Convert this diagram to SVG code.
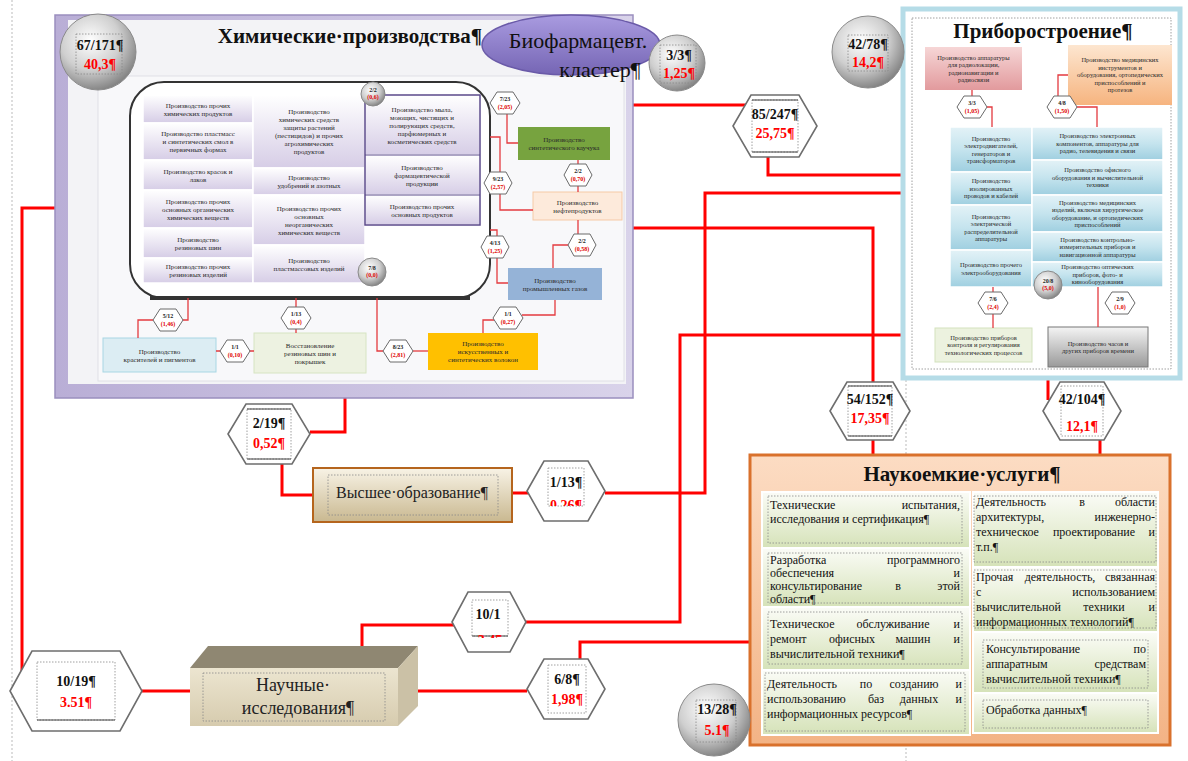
<svg xmlns="http://www.w3.org/2000/svg" width="1188" height="761" viewBox="0 0 1188 761">
<defs>
<radialGradient id="ball" cx="40%" cy="35%" r="70%"><stop offset="0" stop-color="#ffffff"/><stop offset="0.55" stop-color="#cfcfcf"/><stop offset="1" stop-color="#7a7a7a"/></radialGradient>
<linearGradient id="lav" x1="0" y1="0" x2="0" y2="1"><stop offset="0" stop-color="#ffffff"/><stop offset="1" stop-color="#d6cde6"/></linearGradient>
<linearGradient id="frame" x1="0" y1="0" x2="1" y2="0"><stop offset="0" stop-color="#b9aed6"/><stop offset="1" stop-color="#d9d3ea"/></linearGradient>
<linearGradient id="ell" x1="0" y1="0" x2="0" y2="1"><stop offset="0" stop-color="#a99be0"/><stop offset="1" stop-color="#7565b4"/></linearGradient>
<linearGradient id="bl" x1="0" y1="0" x2="0" y2="1"><stop offset="0" stop-color="#e3f2f7"/><stop offset="0.5" stop-color="#c5e4ee"/><stop offset="1" stop-color="#9fcfe0"/></linearGradient>
<linearGradient id="pink" x1="0" y1="0" x2="0" y2="1"><stop offset="0" stop-color="#f6d6d6"/><stop offset="1" stop-color="#e29a9d"/></linearGradient>
<linearGradient id="orng" x1="0" y1="0" x2="0" y2="1"><stop offset="0" stop-color="#fde6d0"/><stop offset="1" stop-color="#f6b47f"/></linearGradient>
<linearGradient id="gray" x1="0" y1="0" x2="0" y2="1"><stop offset="0" stop-color="#f4f4f4"/><stop offset="1" stop-color="#9a9a9a"/></linearGradient>
<linearGradient id="svc" x1="0" y1="0" x2="0" y2="1"><stop offset="0" stop-color="#fcdcc3"/><stop offset="1" stop-color="#f3b385"/></linearGradient>
<linearGradient id="pnl" x1="0" y1="0" x2="0" y2="1"><stop offset="0" stop-color="#fbfcf7"/><stop offset="1" stop-color="#d5e2b8"/></linearGradient>
<linearGradient id="edu" x1="0" y1="0" x2="0" y2="1"><stop offset="0" stop-color="#f8f3e6"/><stop offset="1" stop-color="#c9b890"/></linearGradient>
<linearGradient id="front" x1="0" y1="0" x2="0" y2="1"><stop offset="0" stop-color="#ece5d0"/><stop offset="1" stop-color="#d6cbae"/></linearGradient>
<clipPath id="c113"><rect x="530" y="461" width="80" height="45"/></clipPath>
<clipPath id="c101"><rect x="450" y="592" width="80" height="46"/></clipPath>
<style>
.sm{font-family:"Liberation Serif",serif;font-size:7px;fill:#2a2a2a;text-anchor:middle}
.xs{font-family:"Liberation Serif",serif;font-size:6.5px;fill:#2a2a2a;text-anchor:middle}
.tn{font-family:"Liberation Serif",serif;font-size:6px;font-weight:bold;fill:#222;text-anchor:middle}
.tr{font-family:"Liberation Serif",serif;font-size:6px;font-weight:bold;fill:#e00000;text-anchor:middle}
.cell{fill:url(#lav);stroke:#ffffff;stroke-width:1.5}
.bcell{fill:url(#bl);stroke:#ffffff;stroke-width:1.5}
.hx{fill:#ffffff;stroke:#6e6e6e;stroke-width:1.6}
.sh{fill:#ffffff;stroke:#6a6a6a;stroke-width:1}
.big{stroke:#ff0000;stroke-width:3;fill:none}
.thin{stroke:#e33a3f;stroke-width:1.3;fill:none}
.num{font-family:"Liberation Serif",serif;font-size:14px;font-weight:bold;fill:#111;text-anchor:middle}
.red{fill:#ff0000}
.ttl{font-family:"Liberation Serif",serif;font-size:21px;font-weight:bold;fill:#111;text-anchor:middle}
.st{font-family:"Liberation Serif",serif;font-size:12px;fill:#111}
.dot{fill:none;stroke:#888;stroke-width:0.8;stroke-dasharray:1.5 1.5}
.ball{fill:url(#ball);stroke:#8a8a8a;stroke-width:1}
.pnl{fill:url(#pnl);stroke:#ffffff;stroke-width:2}
.e{text-anchor:end}
.m{text-anchor:middle}
</style>
</defs>
<rect width="1188" height="761" fill="#ffffff"/>
<line x1="12" y1="0" x2="12" y2="761" stroke="#bbb" stroke-width="1" stroke-dasharray="2 2"/>
<line x1="906" y1="380" x2="906" y2="761" stroke="#bbb" stroke-width="1" stroke-dasharray="2 2"/>

<!-- connectors -->
<g id="connectors">
<path class="big" d="M632,105 H746"/>
<path class="big" d="M768,157 V175 H905"/>
<path class="big" d="M632,228 H873 V382"/>
<path class="big" d="M873,440 V456"/>
<path class="big" d="M1048,378 V400"/>
<path class="big" d="M1100,440 V456"/>
<path class="big" d="M345,398 V432 H310"/>
<path class="big" d="M282,464 V495 H313"/>
<path class="big" d="M512,493 H528"/>
<path class="big" d="M605,493 H705 V193 H905"/>
<path class="big" d="M55,208 H22 V674"/>
<path class="big" d="M142,691 H190"/>
<path class="big" d="M418,691 H527"/>
<path class="big" d="M362,647 V625 H454"/>
<path class="big" d="M526,622 H680 V335 H905"/>
<path class="big" d="M580,660 V642 H750"/>
</g>

<!-- Chemical production -->
<g id="chem">
<rect x="55" y="15" width="578" height="383" fill="url(#frame)" stroke="#9a8fbe" stroke-width="1.5"/>
<rect x="68" y="20" width="558" height="364" fill="#f3f3f6"/>
<rect x="98" y="76" width="526" height="305" fill="#f8f8fa" stroke="#e0e0e6" stroke-width="1"/>
<text class="ttl" x="350" y="43">Химические·производства¶</text>
<rect x="130" y="82" width="360" height="216" rx="34" fill="#ffffff" stroke="#333" stroke-width="2"/>
<path d="M150,298 H470" stroke="#333" stroke-width="4"/>
<!-- col1 -->
<rect class="cell" x="143" y="95" width="110" height="28"/>
<rect class="cell" x="143" y="123" width="110" height="37"/>
<rect class="cell" x="143" y="160" width="110" height="30"/>
<rect class="cell" x="143" y="190" width="110" height="38"/>
<rect class="cell" x="143" y="228" width="110" height="30"/>
<rect class="cell" x="143" y="258" width="110" height="25"/>
<rect class="cell" x="253" y="95" width="112" height="73"/>
<rect class="cell" x="253" y="168" width="112" height="27"/>
<rect class="cell" x="253" y="195" width="112" height="50"/>
<rect class="cell" x="253" y="245" width="112" height="38"/>
<rect class="cell" x="365" y="95" width="115" height="60"/>
<rect class="cell" x="365" y="155" width="115" height="40"/>
<rect class="cell" x="365" y="195" width="115" height="30"/>
<rect x="365" y="95" width="115" height="130" fill="none" stroke="#5b4a8a" stroke-width="1.5"/>
<line x1="365" y1="155" x2="480" y2="155" stroke="#5b4a8a" stroke-width="1.2"/>
<line x1="365" y1="195" x2="480" y2="195" stroke="#5b4a8a" stroke-width="1.2"/>
<text class="sm" x="198" y="107.5">Производство прочих<tspan x="198" dy="8">химических продуктов</tspan></text>
<text class="sm" x="198" y="136">Производство пластмасс<tspan x="198" dy="8">и синтетических смол в</tspan><tspan x="198" dy="8">первичных формах</tspan></text>
<text class="sm" x="198" y="173.5">Производство красок и<tspan x="198" dy="8">лаков</tspan></text>
<text class="sm" x="198" y="203.5">Производство прочих<tspan x="198" dy="8">основных органических</tspan><tspan x="198" dy="8">химических веществ</tspan></text>
<text class="sm" x="198" y="241.5">Производство<tspan x="198" dy="8">резиновых шин</tspan></text>
<text class="sm" x="198" y="269">Производство прочих<tspan x="198" dy="8">резиновых изделий</tspan></text>
<text class="sm" x="309" y="114">Производство<tspan x="309" dy="8">химических средств</tspan><tspan x="309" dy="8">защиты растений</tspan><tspan x="309" dy="8">(пестицидов) и прочих</tspan><tspan x="309" dy="8">агрохимических</tspan><tspan x="309" dy="8">продуктов</tspan></text>
<text class="sm" x="309" y="180">Производство<tspan x="309" dy="8">удобрений и азотных</tspan></text>
<text class="sm" x="309" y="210.5">Производство прочих<tspan x="309" dy="8">основных</tspan><tspan x="309" dy="8">неорганических</tspan><tspan x="309" dy="8">химических веществ</tspan></text>
<text class="sm" x="309" y="262.5">Производство<tspan x="309" dy="8">пластмассовых изделий</tspan></text>
<text class="sm" x="422" y="111.5">Производство мыла,<tspan x="422" dy="8">моющих, чистящих и</tspan><tspan x="422" dy="8">полирующих средств,</tspan><tspan x="422" dy="8">парфюмерных и</tspan><tspan x="422" dy="8">косметических средств</tspan></text>
<text class="sm" x="422" y="169.5">Производство<tspan x="422" dy="8">фармацевтической</tspan><tspan x="422" dy="8">продукции</tspan></text>
<text class="sm" x="422" y="208.5">Производство прочих<tspan x="422" dy="8">основных продуктов</tspan></text>
<!-- right side boxes -->
<rect x="518" y="127" width="92" height="33" fill="#77a33f"/>
<text class="sm" x="564" y="142">Производство<tspan x="564" dy="8">синтетического каучука</tspan></text>
<rect x="533" y="192" width="89" height="28" fill="#fdeadb" stroke="#f5c9a6" stroke-width="1"/>
<text class="sm" x="577.5" y="204.5">Производство<tspan x="577.5" dy="8">нефтепродуктов</tspan></text>
<rect x="508" y="268" width="94" height="32" fill="#95b3d7"/>
<text class="sm" x="555" y="282.5">Производство<tspan x="555" dy="8">промышленных газов</tspan></text>
<rect x="103" y="338" width="113" height="34" fill="#dcedf3" stroke="#a8d6e3" stroke-width="1"/>
<text class="sm" x="159.5" y="353.5">Производство<tspan x="159.5" dy="8">красителей и пигментов</tspan></text>
<rect x="254" y="333" width="112" height="40" fill="#edf2e1" stroke="#d6e4c2" stroke-width="1"/>
<text class="sm" x="310" y="347.5">Восстановление<tspan x="310" dy="8">резиновых шин и</tspan><tspan x="310" dy="8">покрышек</tspan></text>
<rect x="428" y="333" width="110" height="37" fill="#ffc000"/>
<text class="sm" x="483" y="346">Производство<tspan x="483" dy="8">искусственных и</tspan><tspan x="483" dy="8">синтетических волокон</tspan></text>
<!-- inner thin connectors -->
<path class="thin" d="M507,113 V143 H518"/>
<path class="thin" d="M578,160 V192"/>
<path class="thin" d="M490,137 H500 V210 H533"/>
<path class="thin" d="M490,230 H497 V283 H508"/>
<path class="thin" d="M578,220 V236"/>
<path class="thin" d="M568,245 H553 V268"/>
<path class="thin" d="M555,300 V315 H522"/>
<path class="thin" d="M494,320 H483 V333"/>
<path class="thin" d="M377,298 V351 H383"/>
<path class="thin" d="M413,351 H428"/>
<path class="thin" d="M188,298 V320 H183"/>
<path class="thin" d="M153,320 H138 V338"/>
<path class="thin" d="M296,298 V333"/>
<path class="thin" d="M216,351 H254"/>
</g>

<!-- small hexes in chem -->
<g id="chem-hex">
<polygon class="sh" points="490,103 497,92 513,92 520,103 513,114 497,114"/><text class="tn" x="505" y="101">7/23</text><text class="tr" x="505" y="109">(2,05)</text>
<polygon class="sh" points="564,175 570,164 586,164 592,175 586,186 570,186"/><text class="tn" x="578" y="173">2/2</text><text class="tr" x="578" y="181">(0,70)</text>
<polygon class="sh" points="484,183 490,172 506,172 512,183 506,194 490,194"/><text class="tn" x="498" y="181">9/23</text><text class="tr" x="498" y="189">(2,57)</text>
<polygon class="sh" points="481,247 487,236 503,236 509,247 503,258 487,258"/><text class="tn" x="495" y="245">4/13</text><text class="tr" x="495" y="253">(1,25)</text>
<polygon class="sh" points="568,245 574,234 590,234 596,245 590,256 574,256"/><text class="tn" x="582" y="243">2/2</text><text class="tr" x="582" y="251">(0,58)</text>
<polygon class="sh" points="153,320 160,309 176,309 183,320 176,331 160,331"/><text class="tn" x="168" y="318">5/12</text><text class="tr" x="168" y="326">(1,46)</text>
<polygon class="sh" points="281,318 288,307 304,307 311,318 304,329 288,329"/><text class="tn" x="296" y="316">1/13</text><text class="tr" x="296" y="324">(0,4)</text>
<polygon class="sh" points="383,351 390,340 406,340 413,351 406,362 390,362"/><text class="tn" x="398" y="349">8/23</text><text class="tr" x="398" y="357">(2,81)</text>
<polygon class="sh" points="493,318 500,307 516,307 523,318 516,329 500,329"/><text class="tn" x="508" y="316">1/1</text><text class="tr" x="508" y="324">(0,27)</text>
<polygon class="sh" points="220,351 227,340 243,340 250,351 243,362 227,362"/><text class="tn" x="235" y="349">1/1</text><text class="tr" x="235" y="357">(0,10)</text>
<circle class="ball" cx="373" cy="94" r="12"/><text class="tn" x="373" y="92" font-size="5">2/2</text><text class="tr" x="373" y="99" font-size="5">(0,6)</text>
<circle class="ball" cx="372" cy="272" r="14"/><text class="tn" x="372" y="270" font-size="5">7/8</text><text class="tr" x="372" y="277" font-size="5">(0,0)</text>
</g>

<g id="chem-total">
<circle class="ball" cx="98" cy="52" r="38"/>
<rect class="dot" x="76" y="34" width="46" height="40"/>
<text class="num" x="100" y="50">67/171¶</text>
<text class="num red" x="100" y="69">40,3¶</text>
</g>

<g id="biopharma">
<ellipse cx="571" cy="45" rx="89" ry="30" fill="url(#ell)" stroke="#6a5aa8" stroke-width="1.5"/>
<text x="578" y="48" font-family="Liberation Serif, serif" font-size="22" fill="#111" text-anchor="middle">Биофармацевт.</text>
<text x="600" y="77" font-family="Liberation Serif, serif" font-size="22" fill="#111" text-anchor="middle">кластер¶</text>
</g>
<g id="bio-total">
<circle class="ball" cx="677" cy="63" r="28"/>
<rect class="dot" x="660" y="45" width="36" height="38"/>
<text class="num" x="679" y="60" font-size="13">3/3¶</text>
<text class="num red" x="679" y="78" font-size="13">1,25¶</text>
</g>

<!-- hex 85/247 -->
<g id="h85">
<polygon class="hx" points="733,126 751,95 799,95 817,126 799,157 751,157"/>
<rect class="dot" x="752" y="100" width="46" height="52"/>
<line x1="752" y1="100" x2="798" y2="100" stroke="#444" stroke-width="1"/>
<line x1="752" y1="152" x2="798" y2="152" stroke="#444" stroke-width="1"/>
<text class="num" x="775" y="119">85/247¶</text>
<text class="num red" x="775" y="138">25,75¶</text>
</g>

<!-- Instrument making -->
<g id="instr">
<rect x="903" y="9" width="277" height="369" fill="#ffffff" stroke="#b5dce7" stroke-width="5"/>
<rect x="912" y="18" width="259" height="351" class="dot"/>
<text class="ttl" x="1043" y="38">Приборостроение¶</text>
<rect x="925" y="47" width="97" height="43" fill="url(#pink)"/>
<text class="xs" x="973.5" y="59.6">Производство аппаратуры<tspan x="973.5" dy="7.5">для радиолокации,</tspan><tspan x="973.5" dy="7.5">радионавигации и</tspan><tspan x="973.5" dy="7.5">радиосвязи</tspan></text>
<rect x="1068" y="45" width="104" height="60" fill="url(#orng)"/>
<text class="xs" x="1120" y="62.3">Производство медицинских<tspan x="1120" dy="7.5">инструментов и</tspan><tspan x="1120" dy="7.5">оборудования, ортопедических</tspan><tspan x="1120" dy="7.5">приспособлений и</tspan><tspan x="1120" dy="7.5">протезов</tspan></text>
<rect class="bcell" x="950" y="127" width="82" height="45"/>
<rect class="bcell" x="950" y="172" width="82" height="33"/>
<rect class="bcell" x="950" y="205" width="82" height="45"/>
<rect class="bcell" x="950" y="250" width="82" height="37"/>
<rect class="bcell" x="1032" y="127" width="131" height="33"/>
<rect class="bcell" x="1032" y="160" width="131" height="35"/>
<rect class="bcell" x="1032" y="195" width="131" height="37"/>
<rect class="bcell" x="1032" y="232" width="131" height="30"/>
<rect class="bcell" x="1032" y="262" width="131" height="25"/>
<text class="xs" x="991" y="140.5">Производство<tspan x="991" dy="7.5">электродвигателей,</tspan><tspan x="991" dy="7.5">генераторов и</tspan><tspan x="991" dy="7.5">трансформаторов</tspan></text>
<text class="xs" x="991" y="183.3">Производство<tspan x="991" dy="7.5">изолированных</tspan><tspan x="991" dy="7.5">проводов и кабелей</tspan></text>
<text class="xs" x="991" y="218.5">Производство<tspan x="991" dy="7.5">электрической</tspan><tspan x="991" dy="7.5">распределительной</tspan><tspan x="991" dy="7.5">аппаратуры</tspan></text>
<text class="xs" x="991" y="267">Производство прочего<tspan x="991" dy="7.5">электрооборудования</tspan></text>
<text class="xs" x="1097.5" y="138.3">Производство электронных<tspan x="1097.5" dy="7.5">компонентов, аппаратуры для</tspan><tspan x="1097.5" dy="7.5">радио, телевидения и связи</tspan></text>
<text class="xs" x="1097.5" y="172.3">Производство офисного<tspan x="1097.5" dy="7.5">оборудования и вычислительной</tspan><tspan x="1097.5" dy="7.5">техники</tspan></text>
<text class="xs" x="1097.5" y="204.5">Производство медицинских<tspan x="1097.5" dy="7.5">изделий, включая хирургическое</tspan><tspan x="1097.5" dy="7.5">оборудование, и ортопедических</tspan><tspan x="1097.5" dy="7.5">приспособлений</tspan></text>
<text class="xs" x="1097.5" y="241.8">Производство контрольно-<tspan x="1097.5" dy="7.5">измерительных приборов и</tspan><tspan x="1097.5" dy="7.5">навигационной аппаратуры</tspan></text>
<text class="xs" x="1097.5" y="269.3">Производство оптических<tspan x="1097.5" dy="7.5">приборов, фото- и</tspan><tspan x="1097.5" dy="7.5">кинооборудования</tspan></text>
<rect x="935" y="328" width="97" height="34" fill="#ecf2df" stroke="#d3e2bd" stroke-width="1"/>
<text class="xs" x="983.5" y="339.8">Производство приборов<tspan x="983.5" dy="7.5">контроля и регулирования</tspan><tspan x="983.5" dy="7.5">технологических процессов</tspan></text>
<rect x="1048" y="327" width="100" height="40" fill="url(#gray)" stroke="#777" stroke-width="1"/>
<text class="xs" x="1098" y="345.5">Производство часов и<tspan x="1098" dy="7.5">других приборов времени</tspan></text>
<path class="thin" d="M972,90 V96"/>
<path class="thin" d="M987,107 H992 V127"/>
<path class="thin" d="M1068,75 H1058 V96"/>
<path class="thin" d="M1077,107 H1097 V127"/>
<path class="thin" d="M993,287 V328"/>
<path class="thin" d="M1098,287 V327"/>
<polygon class="sh" points="957,107 964,96 980,96 987,107 980,118 964,118"/><text class="tn" x="972" y="105">3/3</text><text class="tr" x="972" y="113">(1,05)</text>
<polygon class="sh" points="1047,107 1054,96 1070,96 1077,107 1070,118 1054,118"/><text class="tn" x="1062" y="105">4/8</text><text class="tr" x="1062" y="113">(1,50)</text>
<polygon class="sh" points="978,303 985,292 1001,292 1008,303 1001,314 985,314"/><text class="tn" x="993" y="301">7/6</text><text class="tr" x="993" y="309">(2,4)</text>
<polygon class="sh" points="1105,303 1112,292 1128,292 1135,303 1128,314 1112,314"/><text class="tn" x="1120" y="301">2/9</text><text class="tr" x="1120" y="309">(1,0)</text>
<circle class="ball" cx="1048" cy="285" r="14"/><text class="tn" x="1048" y="283" font-size="5">20/8</text><text class="tr" x="1048" y="290" font-size="5">(5,0)</text>
</g>
<g id="instr-total">
<circle class="ball" cx="868" cy="52" r="36"/>
<rect class="dot" x="848" y="35" width="40" height="36"/>
<text class="num" x="868" y="49">42/78¶</text>
<text class="num red" x="868" y="67">14,2¶</text>
</g>

<g id="h54">
<polygon class="hx" points="830,411 847,382 893,382 910,411 893,440 847,440"/>
<rect class="dot" x="848" y="386" width="44" height="50"/>
<line x1="848" y1="386" x2="892" y2="386" stroke="#444" stroke-width="1"/>
<line x1="848" y1="436" x2="892" y2="436" stroke="#444" stroke-width="1"/>
<text class="num" x="870" y="404">54/152¶</text>
<text class="num red" x="870" y="423">17,35¶</text>
</g>
<g id="h42">
<polygon class="hx" points="1043,411 1060,382 1104,382 1121,411 1104,440 1060,440"/>
<rect class="dot" x="1061" y="386" width="42" height="50"/>
<text class="num" x="1082" y="404">42/104¶</text>
<text class="num red" x="1082" y="431">12,1¶</text>
</g>

<!-- Services -->
<g id="services">
<rect x="750" y="455" width="420" height="290" fill="url(#svc)" stroke="#d9712c" stroke-width="3"/>
<text class="ttl" x="962" y="481" font-size="22">Наукоемкие·услуги¶</text>
<rect class="pnl" x="762" y="492" width="208" height="56"/>
<rect class="pnl" x="762" y="548" width="208" height="59"/>
<rect class="pnl" x="762" y="607" width="208" height="63"/>
<rect class="pnl" x="762" y="670" width="208" height="65"/>
<rect class="pnl" x="973" y="492" width="185" height="75"/>
<rect class="pnl" x="973" y="567" width="185" height="65"/>
<rect class="pnl" x="973" y="632" width="185" height="61"/>
<rect class="pnl" x="973" y="693" width="185" height="40"/>
<rect class="dot" x="768" y="496" width="194" height="47"/>
<rect class="dot" x="768" y="553" width="194" height="50"/>
<rect class="dot" x="768" y="612" width="194" height="52"/>
<rect class="dot" x="765" y="673" width="200" height="58"/>
<rect class="dot" x="974" y="496" width="182" height="66"/>
<rect class="dot" x="974" y="570" width="182" height="58"/>
<rect class="dot" x="983" y="640" width="165" height="48"/>
<rect class="dot" x="983" y="700" width="165" height="28"/>
<text class="st" x="770" y="509">Технические</text><text class="st e" x="960" y="509">испытания,</text>
<text class="st" x="770" y="523">исследования и сертификация¶</text>
<text class="st" x="770" y="564">Разработка</text><text class="st e" x="960" y="564">программного</text>
<text class="st" x="770" y="577">обеспечения</text><text class="st e" x="960" y="577">и</text>
<text class="st" x="770" y="590">консультирование</text><text class="st m" x="898" y="590">в</text><text class="st e" x="960" y="590">этой</text>
<text class="st" x="770" y="603">области¶</text>
<text class="st" x="770" y="628">Техническое</text><text class="st m" x="893" y="628">обслуживание</text><text class="st e" x="960" y="628">и</text>
<text class="st" x="770" y="643">ремонт</text><text class="st m" x="852" y="643">офисных</text><text class="st m" x="913" y="643">машин</text><text class="st e" x="960" y="643">и</text>
<text class="st" x="770" y="658">вычислительной техники¶</text>
<text class="st" x="767" y="688">Деятельность</text><text class="st m" x="866" y="688">по</text><text class="st m" x="914" y="688">созданию</text><text class="st e" x="962" y="688">и</text>
<text class="st" x="767" y="703">использованию</text><text class="st m" x="876" y="703">баз</text><text class="st m" x="919" y="703">данных</text><text class="st e" x="962" y="703">и</text>
<text class="st" x="767" y="718">информационных ресурсов¶</text>
<text class="st" x="976" y="506">Деятельность</text><text class="st m" x="1082" y="506">в</text><text class="st e" x="1155" y="506">области</text>
<text class="st" x="976" y="521">архитектуры,</text><text class="st e" x="1155" y="521">инженерно-</text>
<text class="st" x="976" y="536">техническое</text><text class="st m" x="1094" y="536">проектирование</text><text class="st e" x="1155" y="536">и</text>
<text class="st" x="976" y="551">т.п.¶</text>
<text class="st" x="976" y="581">Прочая</text><text class="st m" x="1060" y="581">деятельность,</text><text class="st e" x="1155" y="581">связанная</text>
<text class="st" x="976" y="596">с</text><text class="st e" x="1155" y="596">использованием</text>
<text class="st" x="976" y="611">вычислительной</text><text class="st m" x="1104" y="611">техники</text><text class="st e" x="1155" y="611">и</text>
<text class="st" x="976" y="626">информационных технологий¶</text>
<text class="st" x="986" y="653">Консультирование</text><text class="st e" x="1146" y="653">по</text>
<text class="st" x="986" y="668">аппаратным</text><text class="st e" x="1146" y="668">средствам</text>
<text class="st" x="986" y="683">вычислительной техники¶</text>
<text class="st" x="986" y="714">Обработка данных¶</text>
</g>
<g id="svc-total">
<circle class="ball" cx="714" cy="720" r="36"/>
<rect class="dot" x="696" y="700" width="40" height="42"/>
<text class="num" x="717" y="714" font-size="15">13/28¶</text>
<text class="num red" x="717" y="735" font-size="15">5.1¶</text>
</g>

<!-- Higher education -->
<g id="edu">
<rect x="313" y="468" width="199" height="54" fill="url(#edu)" stroke="#b5651d" stroke-width="2"/>
<rect class="dot" x="328" y="475" width="170" height="40"/>
<text x="412" y="498" font-family="Liberation Serif, serif" font-size="16" fill="#222" text-anchor="middle">Высшее·образование¶</text>
</g>
<g id="h219">
<polygon class="hx" points="228,434 246,404 292,404 310,434 292,464 246,464"/>
<rect class="dot" x="247" y="409" width="44" height="50"/>
<line x1="247" y1="409" x2="291" y2="409" stroke="#444" stroke-width="1"/>
<line x1="247" y1="459" x2="291" y2="459" stroke="#444" stroke-width="1"/>
<text class="num" x="269" y="428">2/19¶</text>
<text class="num red" x="269" y="448">0,52¶</text>
</g>
<g id="h113">
<polygon class="hx" points="527,491 544,461 588,461 605,491 588,521 544,521"/>
<rect class="dot" x="548" y="468" width="36" height="38"/>
<text class="num" x="566" y="487">1/13¶</text>
<g clip-path="url(#c113)"><text class="num red" x="566" y="510">0,26¶</text></g>
</g>

<!-- Research -->
<g id="research">
<polygon points="190,668 208,646 418,646 398,668" fill="#8f8772"/>
<polygon points="398,668 418,646 418,706 398,726" fill="#cbc1a6"/>
<rect x="190" y="668" width="208" height="58" fill="url(#front)"/>
<rect class="dot" x="203" y="673" width="182" height="48"/>
<text x="293" y="691" font-family="Liberation Serif, serif" font-size="18" fill="#222" text-anchor="middle">Научные·</text>
<text x="298" y="714" font-family="Liberation Serif, serif" font-size="18" fill="#222" text-anchor="middle">исследования¶</text>
</g>
<g id="h1019">
<polygon class="hx" points="10,691 32,651 120,651 142,691 120,731 32,731"/>
<rect class="dot" x="37" y="662" width="78" height="58"/>
<line x1="37" y1="720" x2="115" y2="720" stroke="#444" stroke-width="1"/>
<text class="num" x="76" y="686" font-size="15">10/19¶</text>
<text class="num red" x="76" y="707" font-size="15">3.51¶</text>
</g>
<g id="h101">
<polygon class="hx" points="452,622 468,592 510,592 526,622 510,652 468,652"/>
<rect class="dot" x="472" y="600" width="36" height="36"/>
<line x1="472" y1="636" x2="508" y2="636" stroke="#444" stroke-width="1"/>
<text class="num" x="488" y="619">10/1</text>
<g clip-path="url(#c101)"><text class="num red" x="490" y="645">3,45</text></g>
</g>
<g id="h68">
<polygon class="hx" points="527,689 544,659 588,659 605,689 588,719 544,719"/>
<rect class="dot" x="548" y="665" width="38" height="48"/>
<text class="num" x="567" y="684">6/8¶</text>
<text class="num red" x="567" y="704">1,98¶</text>
</g>
</svg>
